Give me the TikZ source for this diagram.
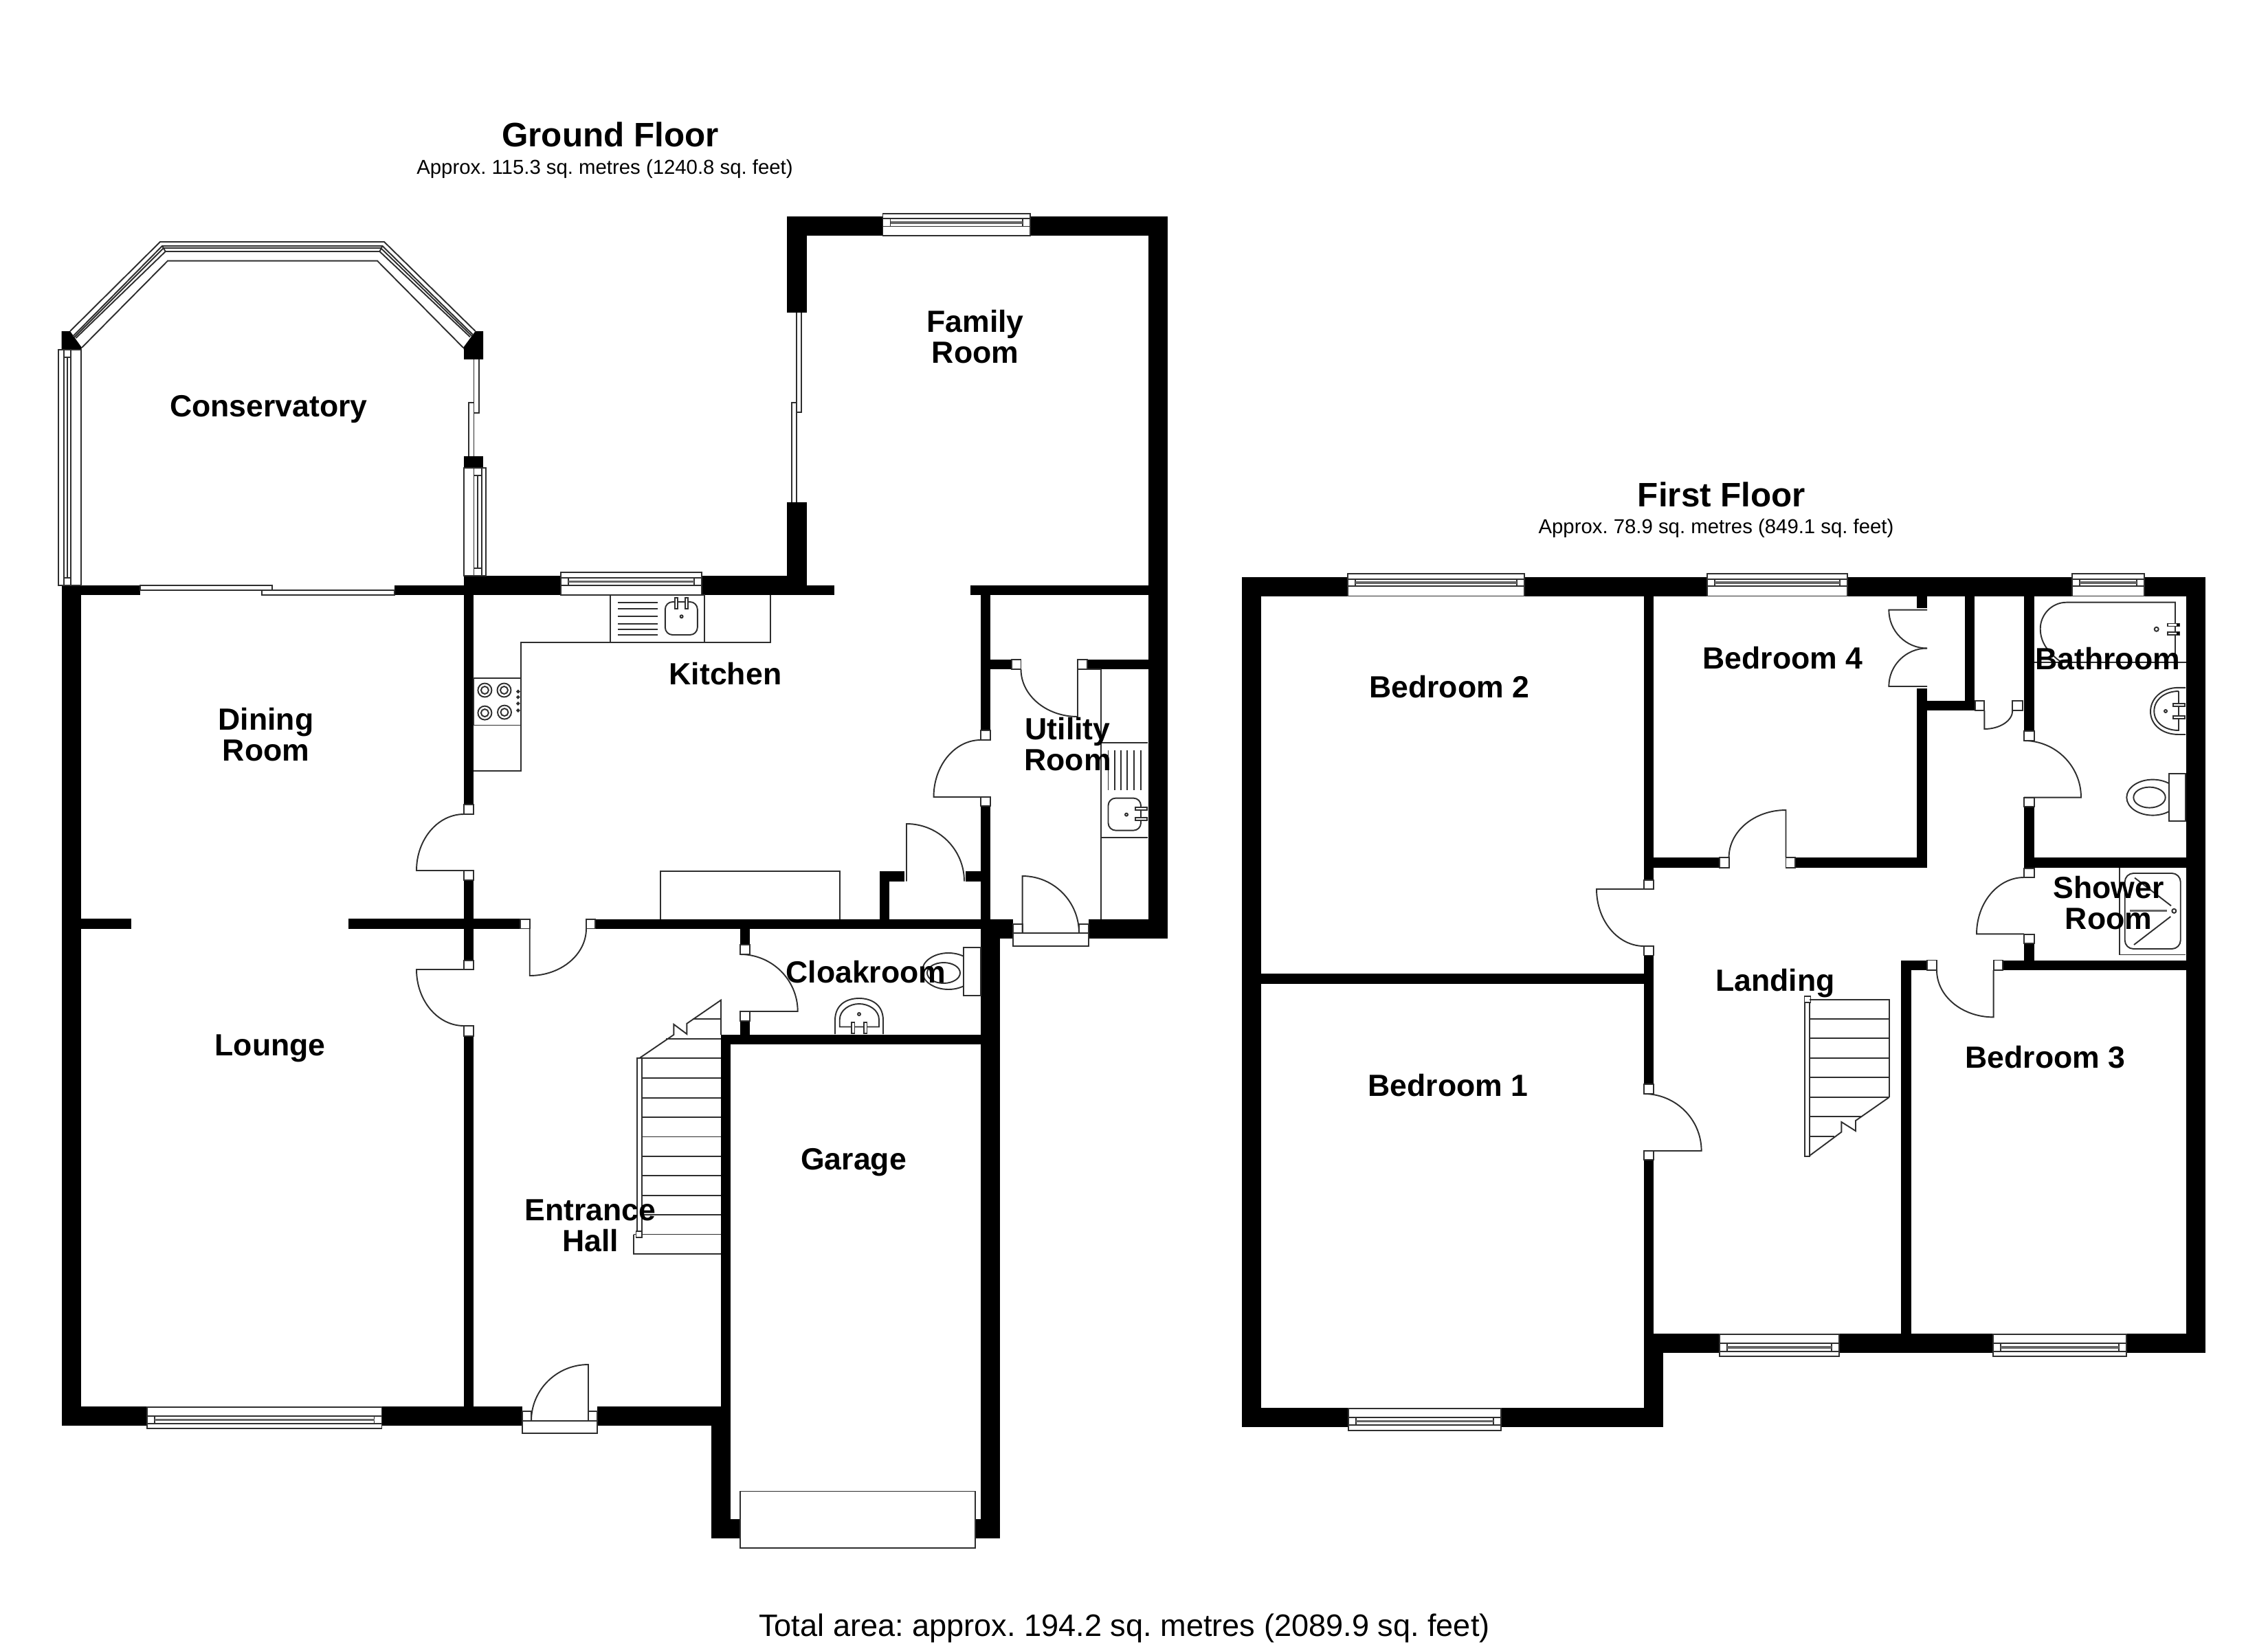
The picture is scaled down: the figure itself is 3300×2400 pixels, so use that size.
\documentclass[tikz,border=0pt]{standalone}
\usepackage{fontspec}
\setmainfont{Liberation Sans}
\frenchspacing
\newcommand{\Wl}[4]{\fill[black] (#1,#2) rectangle (#3,#4);}
\newcommand{\Jb}[4]{\draw[ln,fill=white] (#1,#2) rectangle (#3,#4);}
\newcommand{\Bx}[4]{\draw[ln] (#1,#2) rectangle (#3,#4);}
\newcommand{\Dr}[6]{\draw[ln] (#1,#2) -- (#3,#4) .. controls ({#3+.5523*(#5-#1)},{#4+.5523*(#6-#2)}) and ({#5+.5523*(#3-#1)},{#6+.5523*(#4-#2)}) .. (#5,#6);}
% horizontal window: x1 x2 ytop ya yb ybottom inset
\newcommand{\WinH}[7]{\draw[ln,fill=white] (#1,#3) rectangle (#2,#6);
 \draw[ln] (#1,#4) -- (#2,#4) (#1,#5) -- (#2,#5) ({#1+#7},#4) -- ({#1+#7},#5) ({#2-#7},#4) -- ({#2-#7},#5);
 \draw[glass] ({#1+#7},{(#4+#5)/2}) -- ({#2-#7},{(#4+#5)/2});}
\newcommand{\Tap}[4]{\draw[ln,fill=white] (#1,#2) rectangle (#3,#4);}
\tikzset{ln/.style={draw=black!82,line width=.46pt,line join=miter},
 glass/.style={draw=black!60,line width=.8pt},
 room/.style={font=\fontsize{10.7}{10.7}\selectfont\bfseries,align=center,inner sep=0pt,text=black},
 title/.style={font=\fontsize{11.85}{14}\selectfont\bfseries,inner sep=0pt,text=black},
 sub/.style={font=\fontsize{7.04}{8}\selectfont,inner sep=0pt,text=black},
 total/.style={font=\fontsize{10.83}{12}\selectfont,inner sep=0pt,text=black}}
\begin{document}
\begin{tikzpicture}[x=0.24pt,y=-0.24pt]
\fill[white] (0,0) rectangle (3300,2400);
\useasboundingbox (0,0) rectangle (3300,2400);
%% ---------- GROUND FLOOR walls
\fill[black] (89.5,482) -- (102,482) -- (119,506) -- (118,509) -- (89.5,509) -- cycle;
\fill[black] (691.7,482) -- (703,482) -- (703,523) -- (675,523) -- (675,509) -- (674,506) -- cycle;
\Wl{675}{664}{703}{681}
\Wl{89.5}{852}{204}{866}
\Wl{574}{852}{675}{866}
\Wl{89.5}{852}{117.5}{2075}
\Wl{117.5}{1337}{191}{1352}
\Wl{507}{1337}{757}{1352}
\Wl{675}{838}{689}{1171}
\Wl{675}{1281}{689}{1398}
\Wl{675}{1508}{689}{2047}
\Wl{89.5}{2047}{759.5}{2075}
\Wl{869}{2047}{1049}{2075}
\Wl{1049}{1506}{1063}{2239}
\Wl{1035}{2047}{1063}{2239}
\Wl{1035}{2211}{1077}{2239}
\Wl{1418}{2211}{1455}{2239}
\Wl{675}{838}{816}{866}
\Wl{1021}{838}{1173}{866}
\Wl{1146}{851.5}{1214}{866}
\Wl{1145}{315}{1174}{455}
\Wl{1145}{731}{1174}{866}
\Wl{1145}{315}{1284.5}{343}
\Wl{1499}{315}{1699}{343}
\Wl{1670.5}{315}{1699}{1366}
\Wl{1412}{851.5}{1670.5}{866}
\Wl{1427}{851.5}{1441}{1063}
\Wl{1427}{1173}{1441}{1338}
\Wl{1441}{960}{1472}{974}
\Wl{1581.6}{960}{1670.5}{974}
\Wl{866}{1338}{1474}{1351.5}
\Wl{1405}{1268}{1427}{1282.6}
\Wl{1280}{1268}{1316.4}{1282.6}
\Wl{1280}{1268}{1294}{1338}
\Wl{1077}{1351}{1091}{1375}
\Wl{1077}{1486}{1091}{1506}
\Wl{1049}{1506}{1427}{1520}
\Wl{1427}{1338}{1455}{2239}
\Wl{1441}{1337.7}{1474}{1365.7}
\Wl{1583.7}{1337.7}{1699}{1365.7}
%% jambs
\Jb{675}{1171}{689}{1185}
\Jb{675}{1267}{689}{1281}
\Jb{675}{1398}{689}{1411}
\Jb{675}{1493}{689}{1508}
\Jb{1427}{1063}{1441}{1077}
\Jb{1427}{1160}{1441}{1173}
\Jb{1472}{960}{1485.5}{974}
\Jb{1568}{960}{1581.6}{974}
\Jb{853}{1338}{866}{1351.5}
\Jb{757}{1338}{770.7}{1351.5}
\Jb{1077}{1375}{1091}{1389}
\Jb{1077}{1472}{1091}{1486}
\Jb{1473.6}{1345}{1487.6}{1358}
\Jb{1570}{1345}{1583.7}{1358}
\Jb{1473.6}{1358}{1583.7}{1377}
\Jb{759.6}{2054}{773}{2068}
\Jb{856}{2054}{869}{2068}
\Jb{759.6}{2068}{869}{2086}
%% doors
\Dr{770.7}{1351.5}{770.7}{1420}{853}{1351.5}
\Dr{1427}{1160}{1358.5}{1160}{1427}{1077}
\Dr{1568}{974}{1568}{1043}{1485.5}{974}
\Dr{1319}{1282.6}{1319}{1199}{1403}{1282.6}
\Dr{1487.6}{1358}{1487.6}{1275}{1570}{1358}
\Dr{675}{1267}{606}{1267}{675}{1185}
\Dr{675}{1411}{606}{1411}{675}{1493}
\Dr{1077}{1472}{1160.7}{1472}{1077}{1389}
\Dr{856}{2068}{856}{1986}{773}{2068}
%% conservatory glazing
\draw[ln] (102,482) -- (233,352) -- (559,352) -- (691.7,482);
\draw[ln] (106,489.6) -- (236,358) -- (556.4,358) -- (688.6,487.6);
\draw[ln] (108,491) -- (238,361) -- (554,361) -- (686.5,489);
\draw[ln] (110.4,492) -- (240.8,366) -- (552.4,366) -- (684,490.4);
\draw[ln] (236,358) -- (240.8,366) (556.4,358) -- (552.4,366);
\draw[ln] (119,506) -- (244,379.6) -- (549,379.6) -- (674,506);
\draw[ln,fill=white] (85.4,509) rectangle (118,852);
\draw[ln] (92.6,509) -- (92.6,852) (103.3,509) -- (103.3,852) (92.6,520) -- (103.3,520) (92.6,841) -- (103.3,841) (98,520) -- (98,841);
\draw[ln,fill=white] (203.7,852) rectangle (395.7,859);
\draw[ln,fill=white] (381.4,859) rectangle (574.3,866);
\draw[ln] (689.5,523) -- (689.5,601) -- (696.6,601) -- (696.6,523);
\draw[ln] (689.5,586.4) -- (682,586.4) -- (682,664) (689.5,586.4) -- (689.5,664);
\draw[ln,fill=white] (675,681) rectangle (707,838);
\draw[ln] (689.5,681) -- (689.5,838) (700.6,681) -- (700.6,838) (689.5,692) -- (700.6,692) (689.5,827) -- (700.6,827) (695,692) -- (695,827);
%% windows ground
\WinH{213.7}{555.5}{2048}{2061}{2072}{2079.4}{11}
\WinH{816}{1021}{833}{841}{852.4}{866}{11}
\WinH{1284.5}{1499}{310.7}{318.4}{329.5}{343}{11}
%% sliding doors family
\draw[ln] (1159,455) -- (1159,600) -- (1166,600) -- (1166,455);
\draw[ln] (1159,586) -- (1152,586) -- (1152,731) (1159,586) -- (1159,731);
%% kitchen units
\draw[ln] (688.6,1122) -- (758,1122) -- (758,934.6) -- (1120.7,934.6) -- (1120.7,866);
\Bx{689}{986.6}{758}{1055.5}
\foreach \x/\y in {705.4/1004.5,733.5/1004.5,705.4/1037.6,734/1036.6}{
 \draw[ln] (\x,\y) circle[radius=10];
 \draw[ln] (\x,\y) circle[radius=5.5];}
\foreach \y in {1006.5,1014.7,1023.9,1034}{\draw[ln] (753.8,\y) circle[radius=1.6];}
\Bx{887.8}{866}{1025.3}{934.6}
\foreach \y in {877,886,897,907.6,916,924.4}{\draw[ln] (899,\y) -- (957,\y);}
\draw[ln,rounded corners=2.6pt] (967.8,876) rectangle (1014.8,924);
\Tap{982}{870}{986}{886}
\Tap{996.6}{870}{1000.6}{886}
\draw[ln] (991.6,897.3) circle[radius=2];
\draw[ln] (960.8,1337.7) -- (960.8,1268) -- (1222.4,1268) -- (1222.4,1337.7);
%% utility units
\draw[ln] (1602,974) -- (1602,1337.7) (1568,974) -- (1602,974) (1602,1081) -- (1670,1081) (1602,1218.8) -- (1670,1218.8);
\foreach \x in {1612.5,1621.6,1630.7,1639.8,1649.6,1660}{\draw[ln] (\x,1092) -- (\x,1150);}
\draw[ln,rounded corners=2.6pt] (1612.5,1161.6) rectangle (1660,1208.6);
\Tap{1651.8}{1175}{1668.6}{1179}
\Tap{1651.8}{1190}{1668.6}{1194}
\draw[ln] (1639,1185.6) circle[radius=2];
%% cloakroom
\begin{scope}
\clip (1300,1370) rectangle (1401.7,1460);
\draw[ln] (1380,1413.5) ellipse[x radius=38.3,y radius=26.5];
\end{scope}
\Bx{1401.7}{1379}{1427}{1448.6}
\draw[ln] (1373,1416) ellipse[x radius=24,y radius=15];
\draw[ln] (1215,1505) -- (1215,1485) .. controls (1215,1462) and (1232,1453) .. (1250,1453) .. controls (1268,1453) and (1285,1462) .. (1285,1485) -- (1285,1505);
\draw[ln] (1221.7,1494.5) -- (1221.7,1484) .. controls (1222,1470) and (1236,1461) .. (1250,1461) .. controls (1264,1461) and (1279,1470) .. (1279,1484) -- (1279,1494.5) -- cycle;
\draw[ln] (1250,1476) circle[radius=2];
\Tap{1239}{1488}{1243.5}{1504}
\Tap{1257}{1488}{1261.5}{1504}
%% ground stairs
\foreach \y in {1796.5,1767.8,1739.6,1711.4,1682.7,1654.5,1625.7,1597.6,1568.8,1540}{\draw[ln] (933.7,\y) -- (1049,\y);}
\draw[ln] (969,1512) -- (1049,1512) (1008,1483) -- (1049,1483);
\draw[ln] (921.6,1796.5) -- (921.6,1824.7) -- (1049,1824.7);
\draw[ln] (926.7,1540) rectangle (933.7,1796.5);
\draw[ln] (921.6,1796.5) -- (925.5,1796.5);
\draw[ln,fill=white] (925.5,1792) rectangle (934.4,1801);
\draw[ln] (930.5,1540) -- (980.3,1506) -- (980.3,1490.8) -- (999.4,1505) -- (999.4,1489.7) -- (1049,1455.6) -- (1049,1506);
%% garage door
\draw[ln,fill=white] (1077.3,2170.5) rectangle (1418.7,2253.4);
%% ---------- FIRST FLOOR walls
\Wl{1806.5}{839.5}{1835}{2077.3}
\Wl{1806.5}{839.5}{1961.4}{868}
\Wl{2218.4}{839.5}{2483.7}{868}
\Wl{2688.4}{839.5}{3015.3}{868}
\Wl{3120.3}{839.5}{3209}{868}
\Wl{3180.5}{839.5}{3209}{1969.3}
\Wl{1806.5}{2048.7}{1962.4}{2077.3}
\Wl{2184.3}{2048.7}{2420.4}{2077.3}
\Wl{2392}{1969.3}{2420.4}{2077.3}
\Wl{2392}{1941}{2501.6}{1969.3}
\Wl{2676.3}{1941}{2900}{1969.3}
\Wl{3093.6}{1941}{3209}{1969.3}
\Wl{2766}{1397.5}{2780.5}{1941}
\Wl{2392}{868}{2406}{1280.7}
\Wl{2392}{1390.5}{2406}{1578}
\Wl{2392}{1688}{2406}{1941}
\Wl{1835}{1416.6}{2392}{1432}
\Wl{2406}{1248.3}{2502}{1262.7}
\Wl{2612}{1248.3}{2804}{1262.7}
\Wl{2789}{1002}{2804}{1262.7}
\Wl{2789}{868}{2804}{885}
\Wl{2804}{1020}{2874}{1034}
\Wl{2859}{868}{2873.3}{1034}
\Wl{2945}{868}{2959.7}{1064}
\Wl{2945}{1174}{2959.7}{1263.8}
\Wl{2945}{1373}{2959.7}{1412}
\Wl{2945}{1248.3}{3180.5}{1263}
\Wl{2766}{1397.5}{2804}{1412}
\Wl{2914}{1397.5}{3180.5}{1412}
%% jambs
\Jb{2392}{1280.7}{2406}{1294}
\Jb{2392}{1376.8}{2406}{1390.5}
\Jb{2392}{1578}{2406}{1592}
\Jb{2392}{1675}{2406}{1688}
\Jb{2502}{1248.3}{2515.6}{1262.7}
\Jb{2598.5}{1248.3}{2612}{1262.7}
\Jb{2874}{1020}{2887.3}{1034}
\Jb{2928.3}{1020}{2943}{1034}
\Jb{2945}{1064}{2959.7}{1078}
\Jb{2945}{1161}{2959.7}{1174}
\Jb{2945}{1263.8}{2959.7}{1277}
\Jb{2945}{1360}{2959.7}{1373}
\Jb{2804}{1397.5}{2818}{1412}
\Jb{2900.7}{1397.5}{2914}{1412}
%% doors
\Dr{2392}{1294}{2323}{1294}{2392}{1377}
\Dr{2392}{1675}{2475.6}{1675}{2392}{1592}
\Dr{2598.5}{1248}{2598.5}{1179}{2515.6}{1248}
\Dr{2887.3}{1034}{2887.3}{1061}{2928.3}{1034}
\Dr{2945}{1160.6}{3028}{1160.6}{2945}{1078}
\Dr{2945}{1359.4}{2876}{1359.4}{2945}{1277}
\Dr{2900.6}{1412}{2900.6}{1480.4}{2818}{1412}
\Dr{2804}{887.7}{2748.3}{887.7}{2804}{943.5}
\Dr{2804}{999}{2748.3}{999}{2804}{943.5}
%% windows
\WinH{1961.4}{2218.4}{835}{842.7}{853.3}{867.5}{11}
\WinH{2483.7}{2688.4}{835}{842.7}{853.3}{867.5}{11}
\WinH{3015.3}{3120.3}{834.7}{842.7}{853}{867.5}{11}
\WinH{1962.4}{2184.3}{2050}{2062.7}{2074}{2081.7}{11}
\WinH{2501.6}{2676.3}{1942}{1955}{1966.7}{1974.3}{11}
\WinH{2900}{3093.6}{1942}{1955}{1966.7}{1974.3}{11}
%% bath
\draw[ln] (2959.7,964.4) -- (3180.5,964.4);
\draw[ln] (3165,964.4) -- (3165,876.7) -- (3006.7,876.7) .. controls (2985,876.7) and (2968.7,895) .. (2968.7,915) .. controls (2968.7,935) and (2980,950) .. (3000,964.4);
\draw[ln] (3137.7,915.8) circle[radius=3];
\Tap{3154}{907.5}{3170.7}{911.5}
\Tap{3154}{919.7}{3170.7}{923.7}
\fill[black] (3167,907.5) rectangle (3170.7,911.5) (3167,919.7) rectangle (3170.7,923.7);
%% basin
\draw[ln] (3180,1000.8) -- (3170,1000.8) .. controls (3145,1000.8) and (3129,1017) .. (3129,1035.6) .. controls (3129,1054) and (3145,1069) .. (3170,1069) -- (3180,1069);
\draw[ln] (3170,1006) -- (3170,1063) .. controls (3150,1063) and (3134.3,1052) .. (3134.3,1035) .. controls (3134.3,1018) and (3150,1006) .. (3170,1006);
\draw[ln] (3151,1035) circle[radius=2];
\Tap{3162.3}{1024}{3179.3}{1028}
\Tap{3162.3}{1042}{3179.3}{1046}
%% toilet
\begin{scope}
\clip (3080,1120) rectangle (3155.7,1200);
\draw[ln] (3132.3,1160.6) ellipse[x radius=38,y radius=26];
\end{scope}
\Bx{3155.7}{1125.8}{3180}{1195.4}
\draw[ln] (3127.5,1160.6) ellipse[x radius=23.2,y radius=15];
%% shower
\draw[ln] (3084,1263) -- (3084,1389.5) -- (3180,1389.5);
\draw[ln,rounded corners=3pt] (3091.7,1271) rectangle (3172.7,1381);
\draw[ln] (3106,1277.6) -- (3159,1318.3) (3105,1375) -- (3158.3,1334);
\draw[glass] (3099,1325.5) -- (3153.3,1325.5);
\draw[ln] (3163.3,1325.8) circle[radius=3];
%% first stairs
\draw[ln] (2626,1454.7) rectangle (2633,1682.8);
\draw[ln,fill=white] (2625.5,1450) rectangle (2634.5,1459);
\draw[ln] (2633,1454.7) -- (2748.75,1454.7) -- (2748.75,1597);
\foreach \y in {1483,1511,1539.7,1568.3,1597}{\draw[ln] (2633,\y) -- (2748.75,\y);}
\draw[ln] (2633,1625) -- (2708,1625) (2633,1653.7) -- (2668.75,1653.7);
\draw[ln] (2748.75,1597) -- (2700,1631) -- (2700,1646) -- (2679.4,1633) -- (2679.4,1647.5) -- (2633,1682);
%% ---------- TEXT
\node[title] (t1) at (888,196) {Ground Floor};
\node[sub] (s1) at (880,245.5) {Approx. 115.3 sq. metres (1240.8 sq. feet)};
\node[title] (t2) at (2505,720) {First Floor};
\node[sub] (s2) at (2497,769) {Approx. 78.9 sq. metres (849.1 sq. feet)};
\node[total] (tot) at (1636,2370) {Total area: approx. 194.2 sq. metres (2089.9 sq. feet)};
\node[room] (r1) at (391,596) {Conservatory};
\node[room] (r2) at (1419,490) {Family\\Room};
\node[room] (r3) at (387,1069) {Dining\\Room};
\node[room] (r4) at (393,1526) {Lounge};
\node[room] (r5) at (859,1784) {Entrance\\Hall};
\node[room] (r6) at (1055.5,980.5) {Kitchen};
\node[room] (r7) at (1553.5,1083) {Utility\\Room};
\node[room] (r8) at (1260,1415) {Cloakroom};
\node[room] (r9) at (1242,1692) {Garage};
\node[room] (r10) at (2108.7,1000) {Bedroom 2};
\node[room] (r11) at (2594,958) {Bedroom 4};
\node[room] (r12) at (3066.7,958.5) {Bathroom};
\node[room] (r13) at (3068,1314) {Shower\\Room};
\node[room] (r14) at (2583,1431) {Landing};
\node[room] (r15) at (2976,1539) {Bedroom 3};
\node[room] (r16) at (2107,1580) {Bedroom 1};
\end{tikzpicture}
\end{document}
